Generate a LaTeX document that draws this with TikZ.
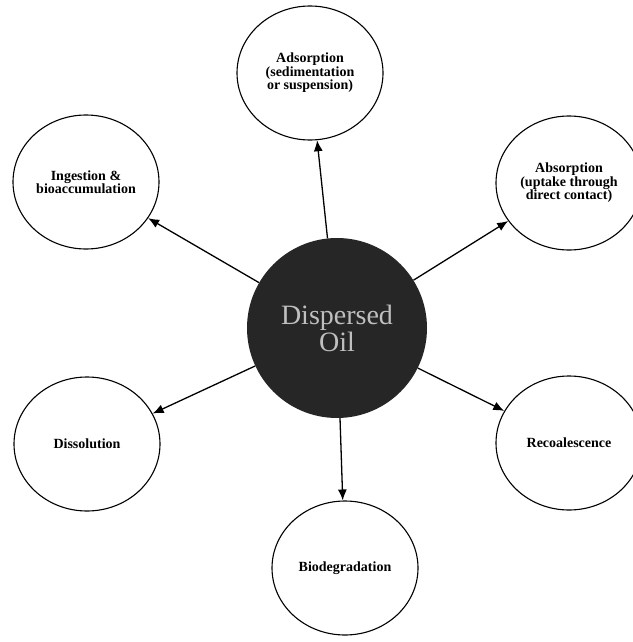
\documentclass[tikz,border=0pt]{standalone}
\usepackage{fontspec}
\setmainfont{Liberation Serif}
\usetikzlibrary{arrows.meta,shapes.geometric}

\begin{document}
\begin{tikzpicture}[
  x=1pt,y=-1pt,
  >={Latex[length=11pt,width=9pt]},
  fate/.style={ellipse,draw,line width=1.1pt,minimum width=146pt,minimum height=134pt,
    inner sep=0pt,align=center,font=\bfseries\fontsize{14}{13.5}\selectfont},
  oil/.style={circle,fill=black!85,minimum size=180pt,inner sep=0pt,align=center,
    text=black!25,font=\fontsize{28}{27}\selectfont},
  flow/.style={->,line width=1.3pt}
]
  \useasboundingbox (0,0) rectangle (632,642);

  \node[oil] (oil) at (337,328) {Dispersed\\Oil};

  \node[fate] (adsorb) at (310,73) {Adsorption\\(sedimentation\\or suspension)};
  \node[fate] (absorb) at (569,183) {Absorption\\(uptake through\\direct contact)};
  \node[fate] (ingest) at (86,182) {Ingestion \&\\bioaccumulation};
  \node[fate] (dissolve) at (87,444) {Dissolution};
  \node[fate] (recoal) at (569,443) {Recoalescence};
  \node[fate] (biodeg) at (345,568) {Biodegradation};

  \foreach \fate in {adsorb,absorb,ingest,dissolve,recoal,biodeg}
    \draw[flow] (oil) -- (\fate);
\end{tikzpicture}
\end{document}
